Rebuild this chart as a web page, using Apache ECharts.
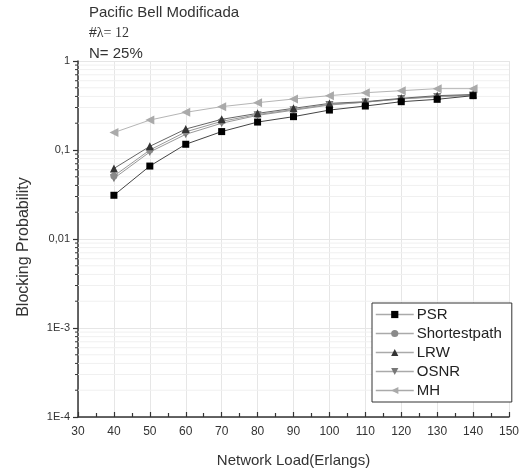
<!DOCTYPE html>
<html>
<head>
<meta charset="utf-8">
<script src="https://cdn.jsdelivr.net/npm/echarts@6/dist/echarts.min.js"></script>
<style>
html,body{margin:0;padding:0;background:#fff;}
#chart{width:531px;height:473px;}
</style>
</head>
<body>
<div id="chart"></div>
<script>
// ---- data ----
const loads = [40, 50, 60, 70, 80, 90, 100, 110, 120, 130, 140];
const psr          = [0.031, 0.066, 0.116, 0.161, 0.206, 0.237, 0.281, 0.312, 0.349, 0.371, 0.408];
const shortestpath = [0.051, 0.100, 0.160, 0.210, 0.250, 0.285, 0.325, 0.345, 0.375, 0.400, 0.415];
const lrw          = [0.062, 0.110, 0.172, 0.221, 0.258, 0.294, 0.334, 0.349, 0.381, 0.408, 0.420];
const osnr         = [0.048, 0.095, 0.150, 0.200, 0.245, 0.280, 0.320, 0.345, 0.375, 0.395, 0.410];
const mh           = [0.157, 0.217, 0.265, 0.307, 0.340, 0.374, 0.408, 0.440, 0.464, 0.489, 0.489];
const seriesNames = ['PSR', 'Shortestpath', 'LRW', 'OSNR', 'MH'];
const yTickValues = [1e-4, 1e-3, 0.01, 0.1, 1];
const yTickLabels = ['1E-4', '1E-3', '0,01', '0,1', '1'];
const yMinorValues = [];
[1e-4, 1e-3, 1e-2, 1e-1].forEach(d => { for (let k = 2; k <= 9; k++) yMinorValues.push(+(d * k).toPrecision(3)); });

const FONT = '"Liberation Sans", Arial, sans-serif';
const chart = echarts.init(document.getElementById('chart'), null, {renderer: 'canvas'});

function pairs(arr) { return loads.map((x, i) => [x, arr[i]]); }
function mk(name, data, symbol, rot, fill, line, size) {
  return {
    name, type: 'line', data: pairs(data), symbol, symbolRotate: rot, symbolSize: size,
    itemStyle: {color: fill}, lineStyle: {color: line, width: 1}, z: 3
  };
}

const option = {
  animation: false,
  backgroundColor: '#fff',
  title: [
    {text: 'Pacific Bell Modificada', left: 89, top: 5, padding: 0,
     textStyle: {fontFamily: FONT, fontSize: 15, fontWeight: 'normal', color: '#333', lineHeight: 15}},
    {text: '{a|#}{b|λ= 12}', left: 89, top: 26, padding: 0,
     textStyle: {fontWeight: 'normal', rich: {
       a: {fontFamily: FONT, fontSize: 14, fontWeight: 'normal', color: '#333', lineHeight: 14},
       b: {fontFamily: '"Liberation Serif", "Times New Roman", serif', fontSize: 14, fontWeight: 'normal', color: '#333', lineHeight: 14}
     }}},
    {text: 'N= 25%', left: 89, top: 46, padding: 0,
     textStyle: {fontFamily: FONT, fontSize: 15, fontWeight: 'normal', color: '#333', lineHeight: 15}}
  ],
  legend: {
    data: seriesNames, orient: 'vertical', left: 372, top: 303,
    padding: [4, 10, 4, 3], itemGap: 4, itemWidth: 38, itemHeight: 9,
    borderColor: '#333', borderWidth: 1, backgroundColor: '#fff',
    lineStyle: {color: '#aaa', width: 1.5},
    textStyle: {fontFamily: FONT, fontSize: 15, color: '#222', lineHeight: 15, padding: [0,0,0,-2]}
  },
  grid: {left: 78, right: 22, top: 61, bottom: 56, containLabel: false},
  xAxis: {
    type: 'value', min: 30, max: 150, interval: 10,
    name: 'Network Load(Erlangs)', nameLocation: 'middle', nameGap: 36,
    nameTextStyle: {fontFamily: FONT, fontSize: 15, color: '#333'},
    axisLine: {show: true, lineStyle: {color: '#333', width: 1.5}},
    axisTick: {show: true, inside: true, length: 5, lineStyle: {color: '#333', width: 1.2}},
    minorTick: {show: true, splitNumber: 2, length: 4, lineStyle: {color: '#333', width: 1.2}},
    axisLabel: {fontFamily: FONT, fontSize: 12, color: '#333', margin: 9},
    splitLine: {show: true, lineStyle: {color: '#e6e6e6', width: 1}}
  },
  yAxis: {
    type: 'log', logBase: 10, min: 1e-4, max: 1,
    name: 'Blocking Probability', nameLocation: 'middle', nameGap: 46,
    nameTextStyle: {fontFamily: FONT, fontSize: 16, color: '#333', padding: [0, 16, 0, 0]},
    axisLine: {show: true, lineStyle: {color: '#333', width: 1.5}},
    axisTick: {show: true, inside: false, length: 5, lineStyle: {color: '#333', width: 1.2}},
    axisLabel: {fontFamily: FONT, fontSize: 11, color: '#333', margin: 8,
      formatter: v => {
        let best = 0, bd = Infinity;
        yTickValues.forEach((t, i) => { const d = Math.abs(Math.log10(v) - Math.log10(t)); if (d < bd) { bd = d; best = i; } });
        return yTickLabels[best];
      }},
    splitLine: {show: true, lineStyle: {color: '#e6e6e6', width: 1}}
  },
  series: [
    {
      type: 'custom', name: 'minor', silent: true, z: 1,
      data: yMinorValues.map(v => [30, v]),
      encode: {x: 0, y: 1},
      renderItem: (params, api) => {
        const p = api.coord([api.value(0), api.value(1)]);
        const cs = params.coordSys;
        return {type: 'group', children: [
          {type: 'line', shape: {x1: cs.x, y1: p[1], x2: cs.x + cs.width, y2: p[1]}, style: {stroke: '#f0f0f0', lineWidth: 1}},
          {type: 'line', shape: {x1: cs.x - 3, y1: p[1], x2: cs.x, y2: p[1]}, style: {stroke: '#333', lineWidth: 1}}
        ]};
      }
    },
    mk('MH', mh, 'triangle', 90, '#aaaaaa', '#b5b5b5', 9),
    mk('OSNR', osnr, 'triangle', 180, '#777777', '#999999', 8),
    mk('Shortestpath', shortestpath, 'circle', 0, '#8a8a8a', '#999999', 7),
    mk('LRW', lrw, 'triangle', 0, '#333333', '#666666', 8),
    mk('PSR', psr, 'rect', 0, '#000000', '#444444', 7)
  ]
};
chart.setOption(option);
</script>
</body>
</html>
